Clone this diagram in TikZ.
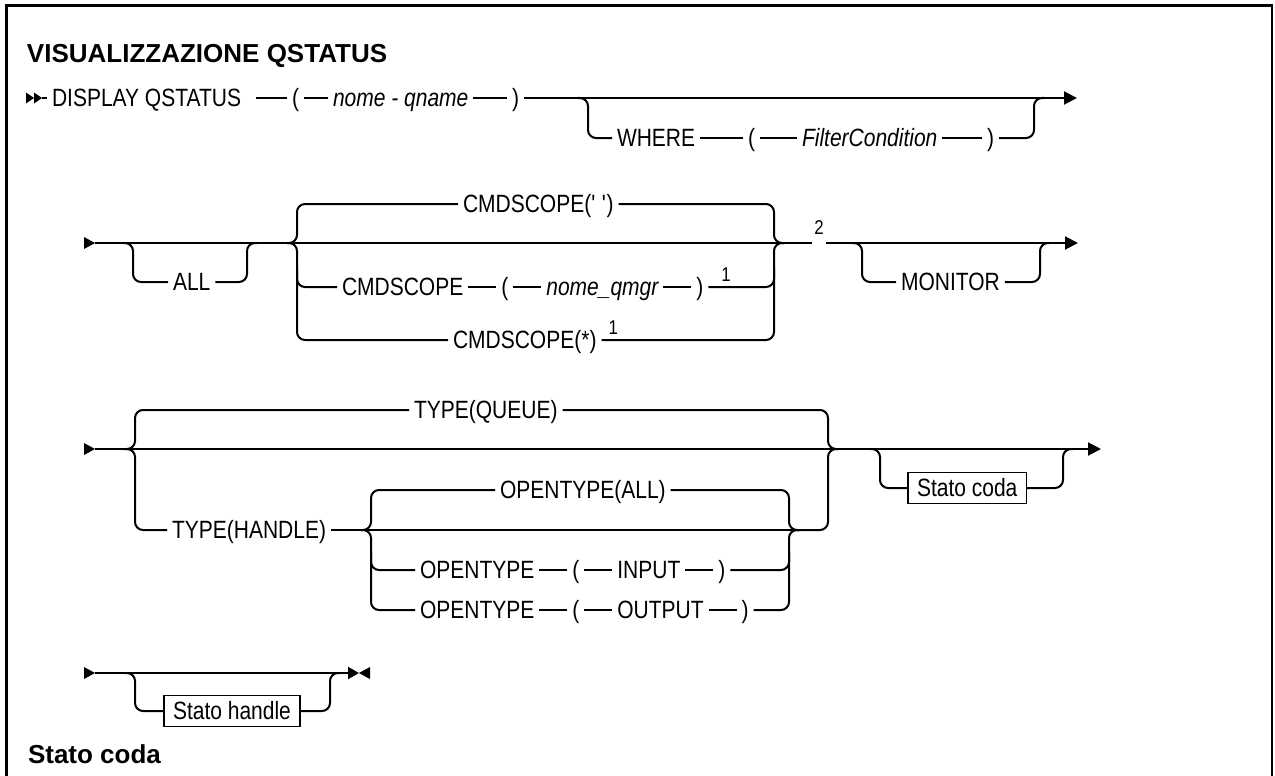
\documentclass[tikz,border=0pt]{standalone}
\usepackage{fontspec}
\setmainfont{Liberation Sans}[FakeStretch=0.84]
\newfontfamily\headfont{Liberation Sans}
\usetikzlibrary{arrows.meta,positioning}
\begin{document}
\begin{tikzpicture}[x=1pt,y=-1pt,line width=2pt,
  tok/.style={inner sep=0pt,outer xsep=5pt,outer ysep=0pt,text height=17.9pt,text depth=0pt,anchor=west,font=\fontsize{25}{28}\selectfont},
  itok/.style={tok,font=\fontsize{25}{28}\selectfont\itshape},
  fnote/.style={inner sep=0pt,anchor=base,font=\fontsize{20}{22}\selectfont},
  stbox/.style={tok,draw,line width=1.5pt,inner xsep=9pt,outer xsep=0pt,minimum height=31pt},
  heading/.style={anchor=base west,inner sep=0pt,font=\headfont\bfseries\fontsize{26}{30}\selectfont},
  br/.style={rounded corners=8pt},
  endarrow/.style={-{Triangle[length=13pt,width=13pt]}},
  endarrowsmall/.style={-{Triangle[length=11pt,width=12pt]}},
]
\useasboundingbox (0,0) rectangle (1275,776);
% frame
\draw[line width=2.5pt] (6.5,776) -- (6.5,5.5) -- (1272,5.5) -- (1272,776);
% headings
\node[heading] (title) at (26,63) {VISUALIZZAZIONE QSTATUS};
\node[heading] (hcoda) at (27,763) {Stato coda};

% ---------------- Row 1
\coordinate (r1s) at (42,98);
\fill (r1s) -- ++(-8,-5.5) -- ++(0,11) -- cycle;
\fill ([xshift=-8pt]r1s) -- ++(-8,-5.5) -- ++(0,11) -- cycle;
\node[tok] (dq) at (47,98) {DISPLAY QSTATUS};
\node[tok] (lp1) at (287,98) {(};
\node[itok] (nq) at (328,98) {nome - qname};
\node[tok] (rp1) at (507,98) {)};
\coordinate (r1e) at (1077,98);
\draw (r1s) -- (dq.west);
\draw[shorten <=10pt] (dq.east) -- (lp1.west);
\draw (lp1.east) -- (nq.west);
\draw (nq.east) -- (rp1.west);
\draw[endarrow] (rp1.east) -- (r1e);
% WHERE branch
\coordinate (w1) at (588,98);
\coordinate (w2) at (1034,98);
\node[tok] (wh) at (612,138) {WHERE};
\node[tok] (lp2) at (743,138) {(};
\node[itok] (fc) at (797,138) {FilterCondition};
\node[tok] (rp2) at (982,138) {)};
\draw[br] ([xshift=-10pt]w1) -- (w1) -- (w1 |- wh.west) -- (wh.west);
\draw (wh.east) -- (lp2.west);
\draw (lp2.east) -- (fc.west);
\draw (fc.east) -- (rp2.west);
\draw[br] (rp2.east) -- (w2 |- rp2.east) -- (w2) -- ([xshift=10pt]w2);

% ---------------- Row 2
\coordinate (r2s) at (95,243);
\fill (r2s) -- ++(-11,-6) -- ++(0,12) -- cycle;
\coordinate (g1) at (812,243);
\coordinate (g2) at (826,243);
\coordinate (r2e) at (1078,243);
\draw (r2s) -- (g1);
\node[fnote] (f2) at (819,234) {2};
\draw[endarrow] (g2) -- (r2e);
% ALL
\coordinate (a1) at (133,243);
\coordinate (a2) at (247,243);
\node[tok] (all) at (168,282) {ALL};
\draw[br] ([xshift=-10pt]a1) -- (a1) -- (a1 |- all.west) -- (all.west);
\draw[br] (all.east) -- (a2 |- all.east) -- (a2) -- ([xshift=10pt]a2);
% CMDSCOPE group
\coordinate (c1) at (297,243);
\coordinate (c2) at (774,243);
\coordinate (c1m) at (297,287);
\coordinate (c1mt) at (297,268);
\coordinate (c2m) at (774,287);
\coordinate (c2mt) at (774,268);
\node[tok] (cq) at (458,204) {CMDSCOPE(\textquotesingle\ \textquotesingle)};
\node[tok] (cmd) at (337,287) {CMDSCOPE};
\node[tok,right=28pt of cmd] (lp3) {(};
\node[itok,right=28pt of lp3] (nqm) {nome\_qmgr};
\node[tok,right=28pt of nqm] (rp3) {)};
\node[fnote,anchor=base west] (f1a) at ([xshift=12pt,yshift=6pt]rp3.east) {1};
\node[tok] (cstar) at (448,340) {CMDSCOPE(*)};
\node[fnote,anchor=base west] (f1b) at ([xshift=6pt,yshift=6pt]cstar.east) {1};
\draw[br] ([xshift=-10pt]c1) -- (c1) -- (c1 |- cq.west) -- (cq.west);
\draw[br] ([xshift=-10pt]c1) -- (c1) -- (c1 |- cstar.west) -- (cstar.west);
\draw[br] (c1mt) -- (c1m) -- (cmd.west);
\draw (cmd.east) -- (lp3.west);
\draw (lp3.east) -- (nqm.west);
\draw (nqm.east) -- (rp3.west);
\draw[br] (cq.east) -- (c2 |- cq.east) -- (c2) -- ([xshift=10pt]c2);
\draw[br] (cstar.east) -- (c2 |- cstar.east) -- (c2) -- ([xshift=10pt]c2);
\draw[br] (rp3.east) -- (c2m) -- (c2mt);
% MONITOR
\coordinate (m1) at (862,243);
\coordinate (m2) at (1040,243);
\node[tok] (mon) at (896,282) {MONITOR};
\draw[br] ([xshift=-10pt]m1) -- (m1) -- (m1 |- mon.west) -- (mon.west);
\draw[br] (mon.east) -- (m2 |- mon.east) -- (m2) -- ([xshift=10pt]m2);

% ---------------- Row 3
\coordinate (r3s) at (95,449);
\fill (r3s) -- ++(-11,-6) -- ++(0,12) -- cycle;
\coordinate (r3e) at (1101,449);
\draw[endarrow] (r3s) -- (r3e);
\coordinate (t1) at (135,449);
\coordinate (t2) at (828,449);
\node[tok] (tq) at (409,410) {TYPE(QUEUE)};
\node[tok] (th) at (167,530) {TYPE(HANDLE)};
\draw[br] ([xshift=-10pt]t1) -- (t1) -- (t1 |- tq.west) -- (tq.west);
\draw[br] ([xshift=-10pt]t1) -- (t1) -- (t1 |- th.west) -- (th.west);
\draw[br] (tq.east) -- (t2 |- tq.east) -- (t2) -- ([xshift=10pt]t2);
% OPENTYPE group
\coordinate (o1) at (371,530);
\coordinate (o2) at (789,530);
\coordinate (o1i) at (371,552);
\coordinate (o2i) at (789,552);
\draw (th.east) -- (o1) -- (o2);
\draw[br] (o2) -- (t2 |- o2) -- (t2) -- ([xshift=10pt]t2);
\node[tok] (ota) at (495,490) {OPENTYPE(ALL)};
\draw[br] ([xshift=-10pt]o1) -- (o1) -- (o1 |- ota.west) -- (ota.west);
\draw[br] (ota.east) -- (o2 |- ota.east) -- (o2) -- ([xshift=10pt]o2);
\node[tok] (oti) at (415,570) {OPENTYPE};
\node[tok,right=28pt of oti] (lp4) {(};
\node[tok,right=28pt of lp4] (inp) {INPUT};
\node[tok,right=28pt of inp] (rp4) {)};
\node[tok] (oto) at (415,610) {OPENTYPE};
\node[tok,right=28pt of oto] (lp5) {(};
\node[tok,right=28pt of lp5] (outp) {OUTPUT};
\node[tok,right=28pt of outp] (rp5) {)};
\draw[br] ([xshift=-10pt]o1) -- (o1) -- (o1 |- oto.west) -- (oto.west);
\draw[br] (o1i) -- (o1 |- oti.west) -- (oti.west);
\draw (oti.east) -- (lp4.west);
\draw (lp4.east) -- (inp.west);
\draw (inp.east) -- (rp4.west);
\draw (oto.east) -- (lp5.west);
\draw (lp5.east) -- (outp.west);
\draw (outp.east) -- (rp5.west);
\draw[br] (rp5.east) -- (o2 |- rp5.east) -- (o2) -- ([xshift=10pt]o2);
\draw[br] (rp4.east) -- (o2 |- rp4.east) -- (o2i);
% Stato coda
\coordinate (s1) at (880,449);
\coordinate (s2) at (1063,449);
\node[stbox] (sc) at (908,488) {Stato coda};
\draw[br] ([xshift=-10pt]s1) -- (s1) -- (s1 |- sc.west) -- (sc.west);
\draw[br] (sc.east) -- (s2 |- sc.east) -- (s2) -- ([xshift=10pt]s2);

% ---------------- Row 4
\coordinate (r4s) at (95,673);
\fill (r4s) -- ++(-11,-6) -- ++(0,12) -- cycle;
\coordinate (r4e) at (359,673);
\draw[endarrowsmall] (r4s) -- (r4e);
\fill (r4e) -- ++(11,-6) -- ++(0,12) -- cycle;
\coordinate (h1) at (135,673);
\coordinate (h2) at (330,673);
\node[stbox] (sh) at (164,711) {Stato handle};
\draw[br] ([xshift=-10pt]h1) -- (h1) -- (h1 |- sh.west) -- (sh.west);
\draw[br] (sh.east) -- (h2 |- sh.east) -- (h2) -- ([xshift=10pt]h2);
\end{tikzpicture}
\end{document}
